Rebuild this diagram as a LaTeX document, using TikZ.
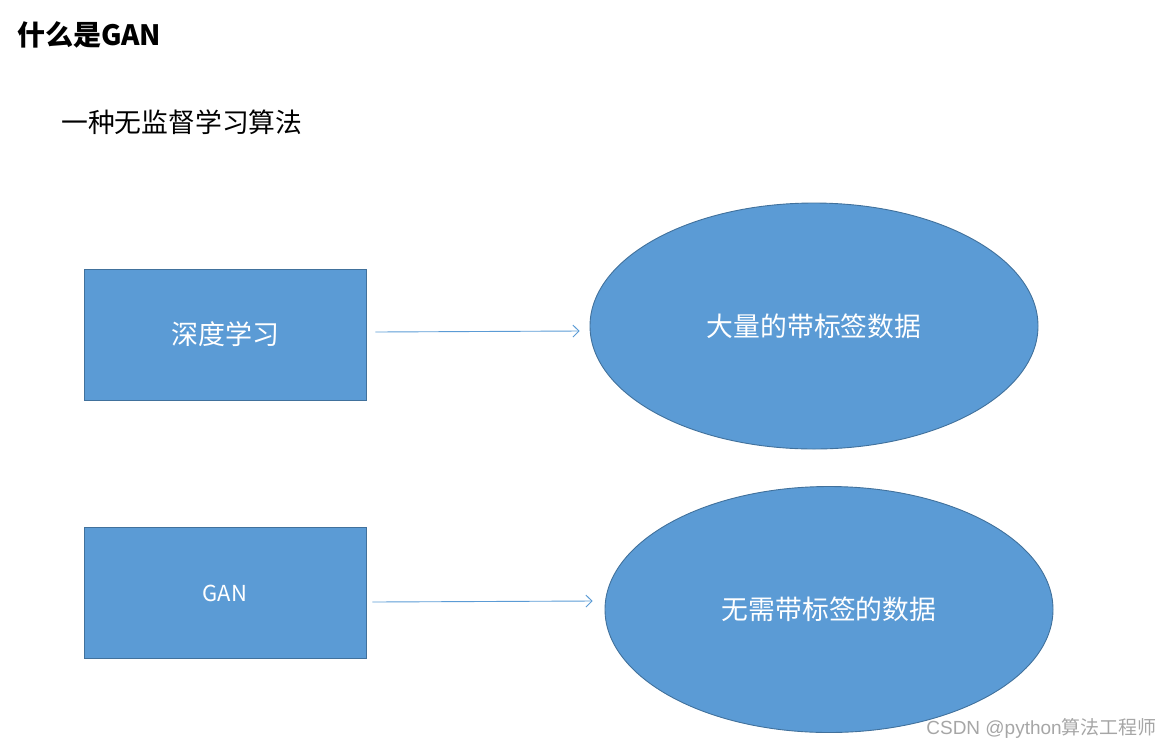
\documentclass[tikz,border=0pt]{standalone}
\usepackage{fontspec}
\setmainfont{Noto Sans CJK SC}
\newfontfamily\wmfont{Liberation Sans}
\newfontfamily\cjkfont{Noto Sans CJK SC}
\usetikzlibrary{shapes.geometric,arrows.meta}
\definecolor{boxfill}{HTML}{5B9BD5}
\definecolor{boxline}{HTML}{41719C}
\definecolor{arrowcol}{HTML}{5B9BD5}
\definecolor{wmgray}{HTML}{A6A6A6}
\tikzset{
  rectbox/.style={draw=boxline, fill=boxfill, line width=0.9pt, minimum width=282pt, minimum height=131pt, inner sep=0pt, text=white, font=\fontsize{27}{32}\selectfont},
  ellbox/.style={ellipse, draw=boxline, fill=boxfill, line width=0.9pt, minimum width=448pt, minimum height=246pt, inner sep=0pt, text=white, font=\fontsize{26.8}{32}\selectfont},
  conn/.style={draw=arrowcol, line width=0.9pt, -{Straight Barb[length=6pt,width=12pt,line width=0.9pt]}},
}
\begin{document}
\begin{tikzpicture}[x=1pt,y=-1pt]
\useasboundingbox (0,0) rectangle (1172,748);
\node[anchor=west, inner sep=0pt, font=\fontsize{28}{32}\selectfont\bfseries] (title) at (17,35) {什么是GAN};
\node[anchor=west, inner sep=0pt, font=\fontsize{26.8}{32}\selectfont] (sub) at (61,122) {一种无监督学习算法};
\node[rectbox] (b1) at (225,334.5) {深度学习};
\node[ellbox] (e1) at (814,326) {大量的带标签数据};
\node[rectbox] (b2) at (225,593) {\fontsize{22}{26}\selectfont GAN};
\node[ellbox] (e2) at (829,609.5) {无需带标签的数据};
\draw[conn] ([xshift=9pt,yshift=2.5pt]b1.east) -- ([xshift=-10pt,yshift=-5pt]e1.west);
\draw[conn] ([xshift=6pt,yshift=-9pt]b2.east) -- ([xshift=-12pt,yshift=8.5pt]e2.west);
\node[anchor=east, inner sep=0pt, text=wmgray, font=\fontsize{19}{22}\selectfont] (wm) at (1157,728) {\wmfont CSDN @python\cjkfont 算法工程师};
\end{tikzpicture}
\end{document}
